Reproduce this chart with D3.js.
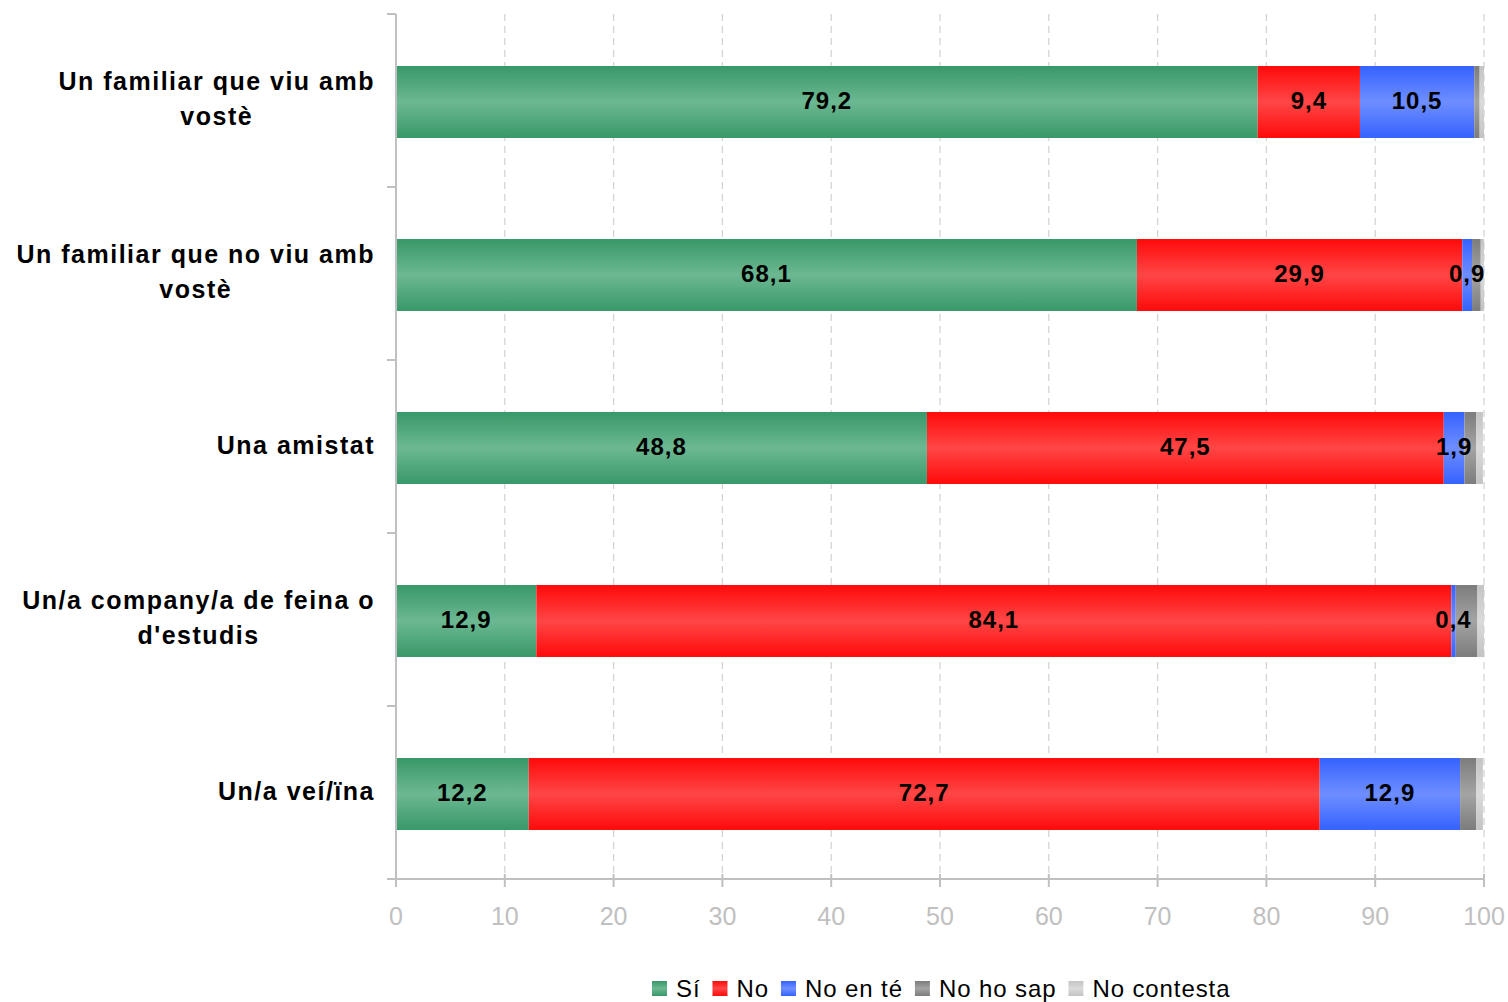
<!DOCTYPE html>
<html><head><meta charset="utf-8">
<script src="https://cdn.jsdelivr.net/npm/d3@7"></script>
<style>body{margin:0;background:#fff;} svg{display:block;}</style>
</head><body>
<svg id="chart" width="1508" height="1002"></svg>
<script>
const categories = [
  ["Un familiar que viu amb","vostè"],
  ["Un familiar que no viu amb","vostè"],
  ["Una amistat"],
  ["Un/a company/a de feina o","d'estudis"],
  ["Un/a veí/ïna"]
];
const seriesNames = ["Sí","No","No en té","No ho sap","No contesta"];
const si        = [79.2, 68.1, 48.8, 12.9, 12.2];
const no        = [9.4, 29.9, 47.5, 84.1, 72.7];
const noEnTe    = [10.5, 0.9, 1.9, 0.4, 12.9];
const noHoSap   = [0.5, 0.8, 1.1, 2.0, 1.5];
const noContesta= [0.4, 0.3, 0.6, 0.6, 0.6];
const labelledSeries = [0,1,2];
const xTicks = [0,10,20,30,40,50,60,70,80,90,100];

const seriesValues = [si, no, noEnTe, noHoSap, noContesta];
const colors = [
  {edge:"#389868", mid:"#6cb892"},
  {edge:"#ff0a0a", mid:"#ff4646"},
  {edge:"#3562ff", mid:"#6e8eff"},
  {edge:"#7c7c7c", mid:"#a4a4a4"},
  {edge:"#c4c4c4", mid:"#dadada"}
];

const svg = d3.select("#chart");
const font = "'Liberation Sans', Arial, sans-serif";
const defs = svg.append("defs");
colors.forEach((c,i)=>{
  const g = defs.append("linearGradient").attr("id","g"+i).attr("x1",0).attr("x2",0).attr("y1",0).attr("y2",1);
  g.append("stop").attr("offset","0%").attr("stop-color",c.edge);
  g.append("stop").attr("offset","50%").attr("stop-color",c.mid);
  g.append("stop").attr("offset","100%").attr("stop-color",c.edge);
});

const x = d3.scaleLinear().domain([0,100]).range([396,1484]);
const idx = d3.range(categories.length);
const y = d3.scaleBand().domain(idx).range([15.5,880.5]).paddingInner(0.584).paddingOuter(0.292);
const yTop = 14, yBottom = 879;

// gridlines
svg.append("g").selectAll("line").data(xTicks.filter(d=>d>0)).join("line")
  .attr("x1",d=>x(d)).attr("x2",d=>x(d)).attr("y1",yTop).attr("y2",yBottom)
  .attr("stroke","#d4d4d4").attr("stroke-width",1.3).attr("stroke-dasharray","7,5");

// bars
const stackData = idx.map(i=>{
  let acc=0; return seriesValues.map((s,k)=>{const r={k,i,x0:acc,x1:acc+s[i],v:s[i]}; acc+=s[i]; return r;});
});
const gBars = svg.append("g");
stackData.forEach(row=>{
  gBars.selectAll(null).data(row).join("rect")
    .attr("x",d=>x(d.x0)).attr("width",d=>x(d.x1)-x(d.x0))
    .attr("y",d=>y(d.i)).attr("height",y.bandwidth())
    .attr("fill",d=>"url(#g"+d.k+")");
});
// value labels
stackData.forEach(row=>{
  gBars.selectAll(null).data(row.filter(d=>labelledSeries.includes(d.k))).join("text")
    .attr("x",d=>x((d.x0+d.x1)/2)).attr("y",d=>y(d.i)+y.bandwidth()/2+7)
    .attr("text-anchor","middle").attr("font-family",font).attr("font-weight","bold")
    .attr("font-size",24).attr("letter-spacing",1).attr("fill","#000")
    .text(d=>d3.format(".1f")(d.v).replace(".",","));
});

// axes
const axisColor = "#c0c0c0";
svg.append("line").attr("x1",x(0)).attr("x2",x(0)).attr("y1",yTop).attr("y2",yBottom).attr("stroke",axisColor).attr("stroke-width",2);
svg.append("line").attr("x1",x(0)).attr("x2",x(100)).attr("y1",yBottom).attr("y2",yBottom).attr("stroke",axisColor).attr("stroke-width",2);
const step = (yBottom-yTop)/categories.length;
svg.append("g").selectAll("line").data(d3.range(categories.length+1)).join("line")
  .attr("x1",387).attr("x2",x(0)).attr("y1",d=>yTop+d*step).attr("y2",d=>yTop+d*step)
  .attr("stroke",axisColor).attr("stroke-width",2);
svg.append("g").selectAll("line").data(xTicks).join("line")
  .attr("x1",d=>x(d)).attr("x2",d=>x(d)).attr("y1",yBottom-5).attr("y2",yBottom+8)
  .attr("stroke",axisColor).attr("stroke-width",2);
svg.append("g").selectAll("text").data(xTicks).join("text")
  .attr("x",d=>x(d)).attr("y",925).attr("text-anchor","middle")
  .attr("font-family",font).attr("font-size",25).attr("fill","#c0c0c0").text(d=>d);

// category labels
const gCat = svg.append("g");
categories.forEach((lines,i)=>{
  const c = y(i)+y.bandwidth()/2;
  const right = 375;
  const texts = lines.map((l,j)=>{
    const base = lines.length===1 ? c+6 : c-12+j*34.5;
    return gCat.append("text").attr("x",right).attr("y",base).attr("text-anchor","end")
      .attr("font-family",font).attr("font-weight","bold").attr("font-size",25)
      .attr("letter-spacing",1.5).attr("fill","#000").text(l);
  });
  const widths = texts.map(t=>t.node().getComputedTextLength());
  const maxW = d3.max(widths);
  texts.forEach((t,j)=>t.attr("x",right-(maxW-widths[j])/2));
});

// legend
const gLeg = svg.append("g");
let lx = 652;
seriesNames.forEach((n,k)=>{
  gLeg.append("rect").attr("x",lx).attr("y",981).attr("width",15).attr("height",15).attr("fill","url(#g"+k+")");
  const t = gLeg.append("text").attr("x",lx+24).attr("y",997).attr("font-family",font)
    .attr("font-size",24).attr("letter-spacing",0.9).attr("fill","#000").text(n);
  lx += 24 + t.node().getComputedTextLength() + 12;
});
</script>
</body></html>
